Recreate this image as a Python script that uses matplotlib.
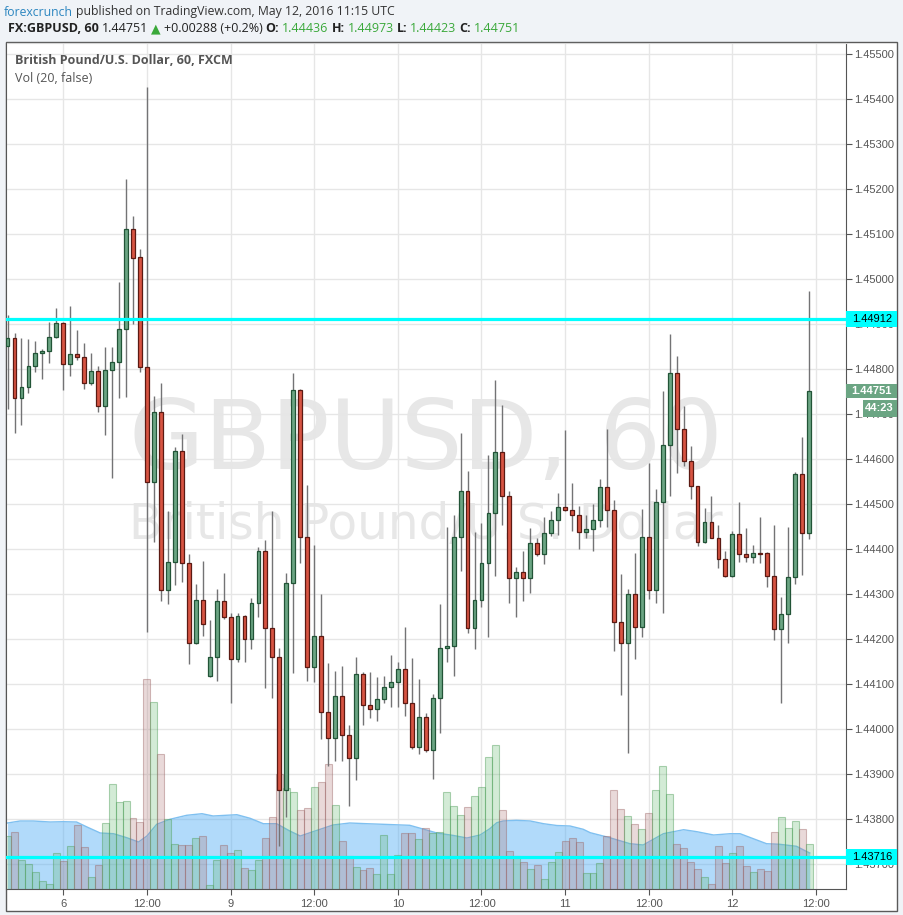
import matplotlib
matplotlib.use('Agg')
import matplotlib.pyplot as plt
import matplotlib.transforms as mtransforms
from matplotlib.patches import Rectangle
import numpy as np

plt.rcParams['font.family'] = ['Open Sans', 'DejaVu Sans']

# hourly slots, 0 = May 6 00:00 UTC (weekend hours dropped, as on the chart)
slots = list(range(-8, 108))

opens = [1.44851, 1.44869, 1.44736, 1.44760, 1.44807, 1.44836, 1.44840, 1.44871,
         1.44902, 1.44811, 1.44833, 1.44827, 1.44769, 1.44796, 1.44718, 1.44799,
         1.44816, 1.44889, 1.45111, 1.45049, 1.44806, 1.44549, 1.44704, 1.44310,
         1.44372, 1.44618, 1.44369, 1.44191, 1.44287, 1.44118, 1.44160, 1.44284,
         1.44249, 1.44157, 1.44251, 1.44200, 1.44280, 1.44396, 1.44224, 1.44160,
         1.43865, 1.44324, 1.44754, 1.44428, 1.44138, 1.44208, 1.44039, 1.43980,
         1.44075, 1.43987, 1.43936, 1.44122, 1.44053, 1.44044, 1.44067, 1.44095,
         1.44104, 1.44133, 1.44058, 1.43960, 1.44027, 1.43953, 1.44069, 1.44180,
         1.44184, 1.44427, 1.44530, 1.44224, 1.44287, 1.44369, 1.44480, 1.44616,
         1.44518, 1.44336, 1.44349, 1.44336, 1.44413, 1.44389, 1.44436, 1.44465,
         1.44493, 1.44487, 1.44476, 1.44438, 1.44445, 1.44465, 1.44538, 1.44487,
         1.44239, 1.44191, 1.44301, 1.44227, 1.44427, 1.44310, 1.44504, 1.44631,
         1.44791, 1.44667, 1.44597, 1.44540, 1.44416, 1.44460, 1.44424, 1.44378,
         1.44341, 1.44434, 1.44389, 1.44382, 1.44391, 1.44391, 1.44341, 1.44222,
         1.44256, 1.44338, 1.44567, 1.44436]
highs = [1.44921, 1.44880, 1.44870, 1.44867, 1.44863, 1.44844, 1.44905, 1.44936,
         1.44905, 1.44941, 1.44887, 1.44859, 1.44837, 1.44807, 1.44850, 1.44850,
         1.44995, 1.45223, 1.45141, 1.45067, 1.45428, 1.44741, 1.44769, 1.44485,
         1.44628, 1.44656, 1.44390, 1.44323, 1.44374, 1.44243, 1.44312, 1.44347,
         1.44258, 1.44258, 1.44253, 1.44292, 1.44404, 1.44421, 1.44485, 1.44180,
         1.44347, 1.44791, 1.44756, 1.44543, 1.44410, 1.44301, 1.44147, 1.44130,
         1.44141, 1.44010, 1.44161, 1.44127, 1.44127, 1.44116, 1.44118, 1.44165,
         1.44150, 1.44227, 1.44158, 1.44112, 1.44037, 1.44078, 1.44278, 1.44450,
         1.44476, 1.44659, 1.44574, 1.44438, 1.44458, 1.44610, 1.44776, 1.44721,
         1.44530, 1.44360, 1.44396, 1.44447, 1.44426, 1.44471, 1.44485, 1.44526,
         1.44665, 1.44548, 1.44496, 1.44477, 1.44501, 1.44556, 1.44667, 1.44510,
         1.44345, 1.44311, 1.44392, 1.44489, 1.44592, 1.44533, 1.44752, 1.44878,
         1.44830, 1.44718, 1.44630, 1.44540, 1.44491, 1.44518, 1.44454, 1.44397,
         1.44441, 1.44504, 1.44447, 1.44410, 1.44471, 1.44395, 1.44454, 1.44293,
         1.44449, 1.44572, 1.44650, 1.44973]
lows = [1.44711, 1.44659, 1.44676, 1.44748, 1.44793, 1.44779, 1.44815, 1.44869,
        1.44753, 1.44785, 1.44821, 1.44756, 1.44765, 1.44706, 1.44655, 1.44558,
        1.44737, 1.44738, 1.44900, 1.44795, 1.44217, 1.44416, 1.44286, 1.44278,
        1.44321, 1.44328, 1.44146, 1.44189, 1.44207, 1.44116, 1.44108, 1.44245,
        1.44059, 1.44150, 1.44150, 1.44178, 1.44250, 1.44092, 1.44070, 1.43741,
        1.43806, 1.44126, 1.44370, 1.44108, 1.44106, 1.43979, 1.43919, 1.43930,
        1.43930, 1.43830, 1.43887, 1.44010, 1.44025, 1.44019, 1.44059, 1.44050,
        1.44050, 1.44030, 1.43956, 1.43944, 1.43950, 1.43889, 1.43991, 1.44150,
        1.44118, 1.44352, 1.44213, 1.44178, 1.44272, 1.44204, 1.44341, 1.44454,
        1.44281, 1.44250, 1.44286, 1.44302, 1.44384, 1.44367, 1.44430, 1.44432,
        1.44484, 1.44441, 1.44400, 1.44424, 1.44397, 1.44449, 1.44449, 1.44175,
        1.44076, 1.43947, 1.44157, 1.44206, 1.44289, 1.44280, 1.44259, 1.44518,
        1.44569, 1.44586, 1.44511, 1.44408, 1.44413, 1.44424, 1.44358, 1.44339,
        1.44338, 1.44372, 1.44372, 1.44370, 1.44370, 1.44317, 1.44198, 1.44059,
        1.44191, 1.44323, 1.44343, 1.44423]
closes = [1.44869, 1.44736, 1.44760, 1.44807, 1.44836, 1.44841, 1.44871, 1.44902,
          1.44811, 1.44833, 1.44827, 1.44769, 1.44796, 1.44718, 1.44799, 1.44816,
          1.44889, 1.45111, 1.45048, 1.44806, 1.44549, 1.44704, 1.44310, 1.44372,
          1.44618, 1.44369, 1.44191, 1.44287, 1.44233, 1.44160, 1.44284, 1.44249,
          1.44157, 1.44251, 1.44200, 1.44280, 1.44396, 1.44224, 1.44160, 1.43865,
          1.44324, 1.44754, 1.44428, 1.44138, 1.44208, 1.44039, 1.43980, 1.44075,
          1.43987, 1.43936, 1.44122, 1.44053, 1.44044, 1.44067, 1.44095, 1.44104,
          1.44133, 1.44058, 1.43960, 1.44027, 1.43953, 1.44069, 1.44180, 1.44184,
          1.44427, 1.44530, 1.44224, 1.44287, 1.44369, 1.44480, 1.44616, 1.44518,
          1.44336, 1.44349, 1.44336, 1.44413, 1.44389, 1.44436, 1.44465, 1.44493,
          1.44487, 1.44476, 1.44438, 1.44445, 1.44465, 1.44538, 1.44487, 1.44239,
          1.44191, 1.44301, 1.44227, 1.44427, 1.44310, 1.44504, 1.44631, 1.44791,
          1.44667, 1.44597, 1.44540, 1.44416, 1.44460, 1.44424, 1.44378, 1.44341,
          1.44434, 1.44389, 1.44382, 1.44391, 1.44389, 1.44341, 1.44222, 1.44256,
          1.44338, 1.44567, 1.44436, 1.44751]

# volume, in pixel heights of the bars (no scale shown on the chart)
volumes = [53, 57, 29, 25, 17, 8, 5, 36, 28, 43, 64, 42, 12, 24, 66, 105,
           87, 88, 71, 67, 210, 187, 135, 70, 45, 44, 44, 51, 53, 4, 29, 44,
           36, 39, 21, 19, 29, 51, 72, 115, 101, 97, 79, 81, 102, 107, 125, 84,
           48, 33, 22, 19, 21, 15, 54, 15, 34, 56, 56, 50, 61, 56, 57, 97,
           83, 74, 82, 93, 102, 132, 144, 79, 38, 33, 27, 20, 24, 10, 27, 37,
           48, 51, 47, 16, 16, 26, 53, 99, 80, 73, 65, 60, 76, 99, 123, 95,
           45, 41, 27, 20, 12, 5, 43, 26, 36, 43, 23, 17, 20, 18, 57, 72,
           61, 68, 60, 45]

# Vol(20) average, read at points along its curve
ma_pos = [-8, -6.2, -4.3, -1.9, 0, 1.9, 3.4, 5.3, 7.2, 9.1, 10.8, 12, 13.4, 15.3,
          17.7, 19.9, 21.5, 24.9, 26.8, 28.7, 30.6, 32.5, 34, 35.4, 38.7, 41.1,
          43.5, 45.9, 49.7, 51.6, 53.6, 56, 57.9, 59.8, 61.2, 62.2, 63.1, 65, 67,
          68.9, 70.8, 72.7, 74.6, 75.6, 78.4, 81.3, 83.2, 86.1, 89, 90.9, 93.3,
          95.7, 97.1, 99, 100.9, 102.8, 105.2, 106.7, 107.1]
ma_val = [66, 68, 68, 67, 67.3, 67, 62, 56, 55.3, 51.3, 47, 53, 64.7, 69.7,
          73.7, 75.3, 73, 74.3, 70.7, 65.3, 65.3, 58, 53, 56.3, 64, 66,
          65.3, 64.7, 63.7, 60, 56, 53.5, 51, 54, 60.3, 66.3, 68, 68.7, 68,
          65.3, 63.5, 63, 59.7, 56.3, 51.3, 45.3, 44, 55.3, 59.3, 57.3, 54,
          55.3, 55.3, 50.3, 45.3, 44.7, 42.7, 37.3, 36]

price_ticks = [1.437, 1.438, 1.439, 1.440, 1.441, 1.442, 1.443, 1.444, 1.445,
               1.446, 1.447, 1.448, 1.449, 1.450, 1.451, 1.452, 1.453, 1.454, 1.455]
time_ticks = [0, 12, 24, 36, 48, 60, 72, 84, 96, 108]
time_labels = ['6', '12:00', '9', '12:00', '10', '12:00', '11', '12:00', '12', '12:00']
level_lines = [1.44912, 1.43716]
last_price = 1.44751

G_FACE, G_EDGE = '#6ba583', '#225437'
R_FACE, R_EDGE = '#d75442', '#5b1a13'
WICK = '#737375'
CYAN = '#00ffff'

W, H = 904, 915
fig = plt.figure(figsize=(W / 100, H / 100), dpi=100, facecolor='#f0f3f7')


def fx(px):
    return px / W


def fy(py):
    return 1 - py / H


fig.add_artist(Rectangle((fx(6), fy(911)), fx(897) - fx(6), fy(42) - fy(911),
                         transform=fig.transFigure, fc='white', ec='#5a5a5a', lw=1, zorder=0))

ax = fig.add_axes([fx(6.5), fy(889), fx(846) - fx(6.5), fy(42.5) - fy(889)])
ax.set_facecolor('white')
ax_h_px = 889 - 42.5

o = np.array(opens)
c = np.array(closes)
up = c >= o

# volume panel sits in the same axes, scaled in pixel units from the bottom
vol_tr = mtransforms.blended_transform_factory(
    ax.transData, mtransforms.Affine2D().scale(1, 1 / ax_h_px) + ax.transAxes)
ax.fill_between(ma_pos, 0, ma_val, transform=vol_tr, color=(0.32, 0.68, 0.96), alpha=0.45,
                lw=0, zorder=1)
ax.plot(ma_pos, ma_val, transform=vol_tr, color='#7fc0f0', lw=1, zorder=1.1)
vcol = [(0.39, 0.72, 0.43, 0.28) if u else (0.69, 0.47, 0.47, 0.28) for u in up]
vedge = [(0.31, 0.62, 0.35, 0.45) if u else (0.6, 0.38, 0.38, 0.42) for u in up]
ax.bar(slots, volumes, width=1.0, bottom=0, color=vcol, edgecolor=vedge, lw=0.8,
       transform=vol_tr, zorder=1.5)

# candles
ax.vlines(slots, lows, highs, color=WICK, lw=1, zorder=3)
body_lo = np.minimum(o, c)
body_h = np.maximum(np.abs(c - o), 0.00002)
ax.bar(slots, body_h, bottom=body_lo, width=0.56,
       color=[G_FACE if u else R_FACE for u in up],
       edgecolor=[G_EDGE if u else R_EDGE for u in up], lw=0.9, zorder=4)

for lv in level_lines:
    ax.axhline(lv, color=CYAN, lw=2.3, zorder=6)

# watermark
ax.text(0.5, 0.496, 'GBPUSD, 60', transform=ax.transAxes, ha='center', va='baseline',
        fontsize=70, color='#e7e7e7', family='DejaVu Sans', zorder=0.4)
ax.text(0.5, 0.4135, 'British Pound/U.S. Dollar', transform=ax.transAxes, ha='center',
        va='baseline', fontsize=35, color='#e7e7e7', family='DejaVu Sans', zorder=0.4)

ax.set_xlim(-8.15, 112.3)
ax.set_ylim(1.436451, 1.455262)
ax.set_yticks(price_ticks)
ax.set_yticklabels(['%.5f' % p for p in price_ticks])
ax.set_xticks(time_ticks)
ax.set_xticklabels(time_labels)
ax.yaxis.tick_right()
ax.tick_params(axis='both', direction='out', length=4, color='#555555', labelcolor='#555555',
               labelsize=8)
ax.tick_params(axis='y', pad=2)
ax.tick_params(axis='x', pad=3)
for lab in ax.get_xticklabels() + ax.get_yticklabels():
    lab.set_family('Liberation Sans')
ax.set_axisbelow(True)
ax.grid(True, color='#e6e6e6', lw=1)
for side in ['left', 'right', 'bottom']:
    ax.spines[side].set_color('#555555')
ax.spines['top'].set_color('#d6d6d6')

# price labels on the right scale
ytr = mtransforms.blended_transform_factory(ax.transAxes, ax.transData)
box_w = 51 / (846 - 6.5)
half = 8 / 45000
for lv in level_lines:
    ax.add_patch(Rectangle((1.0, lv - half), box_w, 2 * half, transform=ytr, fc=CYAN, ec='none',
                           clip_on=False, zorder=7))
    ax.text(1.0 + 6 / 839.5, lv, '%.5f' % lv, transform=ytr, va='center', ha='left', fontsize=8,
            color='black', family='Liberation Sans', clip_on=False, zorder=8)
ax.add_patch(Rectangle((1.0, last_price - 7 / 45000), box_w, 14 / 45000, transform=ytr,
                       fc=G_FACE, ec='none', clip_on=False, zorder=7))
ax.text(1.0 + 5 / 839.5, last_price, '%.5f' % last_price, transform=ytr, va='center', ha='left',
        fontsize=8, color='white', weight='bold', family='Liberation Sans', clip_on=False, zorder=8)
cd_y = last_price - 17 / 45000
ax.add_patch(Rectangle((1.0 + 17 / 839.5, cd_y - 8.5 / 45000), 34 / 839.5, 17 / 45000,
                       transform=ytr, fc=G_FACE, ec='none', clip_on=False, zorder=7))
ax.text(1.0 + 19 / 839.5, cd_y, '44:23', transform=ytr, va='center', ha='left', fontsize=8,
        color='white', weight='bold', family='Liberation Sans', clip_on=False, zorder=8)

# header lines, built piece by piece
renderer = fig.canvas.get_renderer()


def chain(x, y, parts, size):
    for s, col, wt in parts:
        t = fig.text(fx(x), fy(y), s, ha='left', va='center', fontsize=size, color=col,
                     weight=wt)
        x = t.get_window_extent(renderer).x1 + 3
    return x


chain(4, 12, [('forexcrunch', '#2c86c0', 'normal'),
              ('published on TradingView.com, May 12, 2016 11:15 UTC', '#333333', 'normal')], 8.8)
GREEN_TXT = '#3aa83a'
chain(8, 29, [('FX:GBPUSD, 60', '#222222', 'bold'),
              ('1.44751', '#222222', 'normal'),
              ('\u25b2', '#3aa83a', 'normal'),
              ('+0.00288 (+0.2%)', '#222222', 'normal'),
              ('O:', '#222222', 'bold'), ('1.44436', GREEN_TXT, 'normal'),
              ('H:', '#222222', 'bold'), ('1.44973', GREEN_TXT, 'normal'),
              ('L:', '#222222', 'bold'), ('1.44423', GREEN_TXT, 'normal'),
              ('C:', '#222222', 'bold'), ('1.44751', GREEN_TXT, 'normal')], 9)

fig.text(fx(15), fy(60), 'British Pound/U.S. Dollar, 60, FXCM', ha='left', va='center',
         fontsize=9, color='#555555', weight='bold')
fig.text(fx(15), fy(78), 'Vol (20, false)', ha='left', va='center', fontsize=9,
         color='#555555')

fig.savefig('out.png', dpi=100, facecolor=fig.get_facecolor())
plt.close('all')
